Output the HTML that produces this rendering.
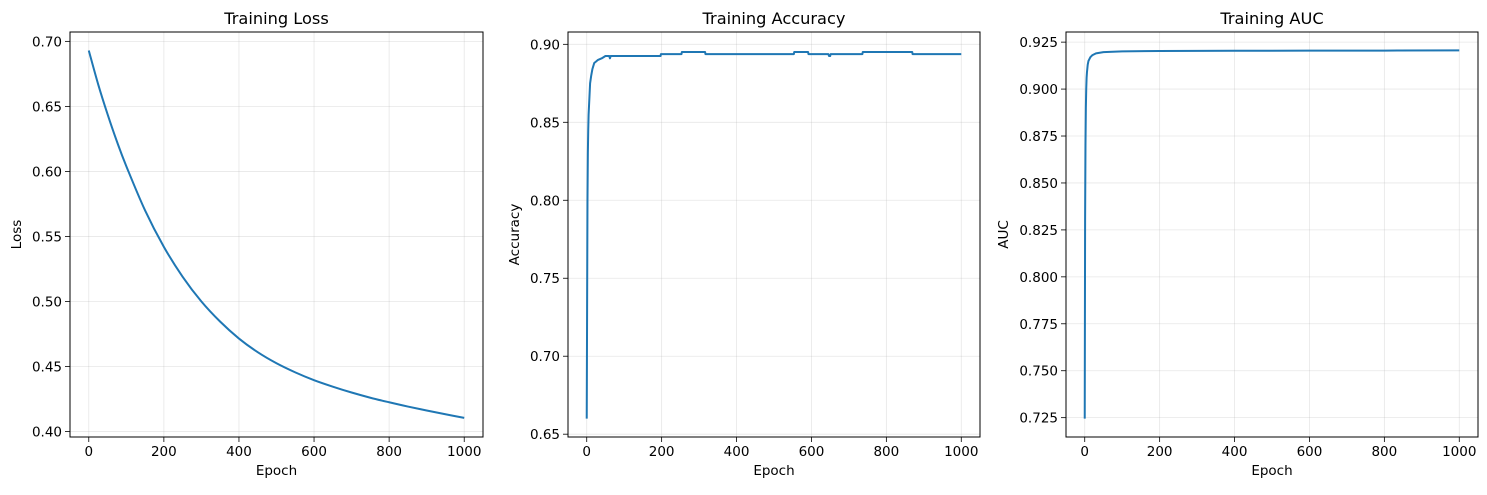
<!DOCTYPE html>
<html><head><meta charset="utf-8"><style>
body{margin:0;background:#fff}
svg text{font-family:"DejaVu Sans","Liberation Sans",sans-serif;fill:#000}
</style></head><body>
<svg id="fig" width="1487" height="490" xmlns="http://www.w3.org/2000/svg"></svg>
<script>
const lossEpochs=[0,25,50,75,100,150,200,250,300,350,400,450,500,550,600,650,700,750,800,850,900,950,1000];
const lossValues=[0.693,0.667,0.644,0.623,0.604,0.570,0.542,0.519,0.500,0.4845,0.4715,0.4610,0.4525,0.4455,0.4395,0.4345,0.4300,0.4260,0.4225,0.4192,0.4162,0.4133,0.4105];
const accEpochs=[0,1,2,3,4,5,7,9,12,15,20,25,30,40,50,60,62,64,100,197,198,253,254,316,317,553,554,591,592,645,647,650,651,736,737,869,870,1000];
const accValues=[0.66,0.73,0.80,0.83,0.845,0.855,0.865,0.875,0.88,0.884,0.888,0.889,0.890,0.891,0.8925,0.8925,0.891,0.8925,0.8925,0.8925,0.8937,0.8937,0.8951,0.8951,0.8937,0.8937,0.8951,0.8951,0.8937,0.8937,0.8925,0.8925,0.8937,0.8937,0.8951,0.8951,0.8937,0.8937];
const aucEpochs=[0,1,2,3,4,5,6,8,10,15,20,30,50,100,200,400,600,800,1000];
const aucValues=[0.7245,0.83,0.87,0.89,0.90,0.906,0.909,0.913,0.915,0.917,0.918,0.919,0.9197,0.9201,0.9203,0.9204,0.9205,0.9205,0.9206];
const xTicks=[0,200,400,600,800,1000];
const lossTicks=[0.40,0.45,0.50,0.55,0.60,0.65,0.70];
const accTicks=[0.65,0.70,0.75,0.80,0.85,0.90];
const aucTicks=[0.725,0.750,0.775,0.800,0.825,0.850,0.875,0.900,0.925];
const NS="http://www.w3.org/2000/svg";
const fig=document.getElementById('fig');
function mk(tag,attrs,parent){const e=document.createElementNS(NS,tag);for(const k in attrs)e.setAttribute(k,attrs[k]);parent.appendChild(e);return e;}
function smoothPath(P){
  let d='M'+P[0][0].toFixed(2)+' '+P[0][1].toFixed(2);
  for(let i=0;i<P.length-1;i++){
    const p0=P[Math.max(0,i-1)],p1=P[i],p2=P[i+1],p3=P[Math.min(P.length-1,i+2)];
    const c1x=p1[0]+(p2[0]-p0[0])/6,c1y=p1[1]+(p2[1]-p0[1])/6;
    const c2x=p2[0]-(p3[0]-p1[0])/6,c2y=p2[1]-(p3[1]-p1[1])/6;
    d+=` C${c1x.toFixed(2)} ${c1y.toFixed(2)} ${c2x.toFixed(2)} ${c2y.toFixed(2)} ${p2[0].toFixed(2)} ${p2[1].toFixed(2)}`;
  }
  return d;
}
function panel(id,L,R,ymin,ymax,xs,ys,yt,dec,title,ylabel,ylx,smooth){
  const T=32,B=437;
  const g=mk('g',{},fig);
  
  
  const sx=v=>L+(v+50)/1100*(R-L);
  const sy=v=>B-(v-ymin)/(ymax-ymin)*(B-T);
  xTicks.forEach(t=>{
    const x=sx(t);
    const gl=mk('line',{x1:x,x2:x,y1:T,y2:B,stroke:'#b0b0b0','stroke-opacity':0.3,'stroke-width':0.8},g);
    
    
    mk('line',{x1:x,x2:x,y1:B,y2:B+5,stroke:'#000','stroke-width':0.8},g);
    const tx=mk('text',{x:x,y:B+19,'text-anchor':'middle','font-size':13.5},g);
    tx.textContent=t;
    
    
  });
  yt.forEach(t=>{
    const y=sy(t);
    const gl=mk('line',{x1:L,x2:R,y1:y,y2:y,stroke:'#b0b0b0','stroke-opacity':0.3,'stroke-width':0.8},g);
    
    
    mk('line',{x1:L-5,x2:L,y1:y,y2:y,stroke:'#000','stroke-width':0.8},g);
    const tx=mk('text',{x:L-8,y:y+5,'text-anchor':'end','font-size':13.5},g);
    tx.textContent=t.toFixed(dec);
    
    
  });
  const pts=xs.map((v,i)=>[sx(v),sy(ys[i])]);
  const d=smooth?smoothPath(pts):pts.map((p,i)=>(i?'L':'M')+p[0].toFixed(2)+' '+p[1].toFixed(2)).join(' ');
  const p=mk('path',{d:d,fill:'none',stroke:'#1f77b4','stroke-width':2,'stroke-linejoin':'round'},g);
  
  
  const fr=mk('rect',{x:L,y:T,width:R-L,height:B-T,fill:'none',stroke:'#000','stroke-width':1},g);
  
  
  const ti=mk('text',{x:(L+R)/2,y:T-8,'text-anchor':'middle','font-size':16.2},g);
  ti.textContent=title;
  
  
  const xl=mk('text',{x:(L+R)/2,y:B+38,'text-anchor':'middle','font-size':13.5},g);
  xl.textContent='Epoch';
  
  
  const yl=mk('text',{x:0,y:0,'text-anchor':'middle','font-size':13.5,transform:`translate(${ylx},${(T+B)/2}) rotate(-90)`},g);
  yl.textContent=ylabel;
  
  
}
panel('loss',70,483,0.3958,0.7072,lossEpochs,lossValues,lossTicks,2,'Training Loss','Loss',21,true);
panel('accuracy',568,980,0.6482,0.9079,accEpochs,accValues,accTicks,2,'Training Accuracy','Accuracy',519,false);
panel('auc',1066,1478,0.7147,0.9304,aucEpochs,aucValues,aucTicks,3,'Training AUC','AUC',1008,false);
</script>
</body></html>
